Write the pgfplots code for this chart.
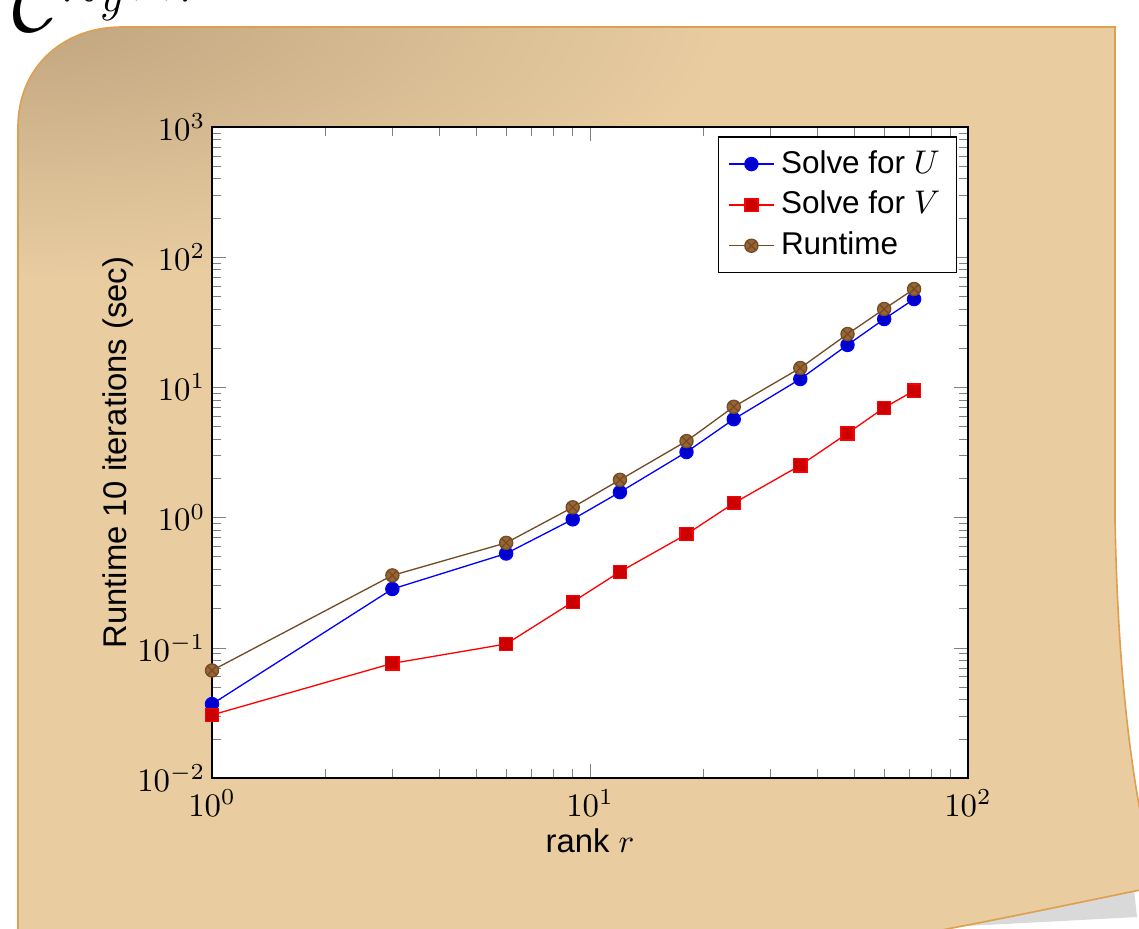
\documentclass[border=0pt]{standalone}
\usepackage{fontspec}
\setmainfont{Liberation Sans}
\usepackage{pgfplots}
\pgfplotsset{compat=1.18}

\definecolor{paper}{RGB}{233,205,161}
\definecolor{paperdark}{RGB}{192,164,126}
\definecolor{paperedge}{RGB}{222,160,80}
\definecolor{shadowgray}{RGB}{217,217,217}

\begin{document}
\begin{tikzpicture}
% note paper behind the plot, in pixel units of the reference
\begin{scope}[x=0.305pt,y=-0.305pt]
  \useasboundingbox (0,0) rectangle (1139,928);
  \clip (0,0) rectangle (1139,928);
  \node[anchor=base west, inner sep=0pt] at (12,31) {\fontsize{29}{30}\selectfont $\mathcal{C}^{n_y\times r}$};
  \fill[shadowgray] (1133,880) -- (1137,917) -- (700,940) -- cycle;
  \def\paperpath{(18,940) -- (18,127) .. controls (18,68) and (62,27) .. (122,27)
    -- (1115,27) -- (1115,520) .. controls (1118,680) and (1132,780) .. (1150,860)
    -- (1150,888) .. controls (1080,902) and (990,922) .. (860,945) -- cycle}
  \fill[paper] \paperpath;
  \begin{scope}
    \clip \paperpath;
    \shade[inner color=paperdark, outer color=paper] (30,10) ellipse (700 and 270);
  \end{scope}
  \draw[paperedge, line width=0.5pt] \paperpath;
\end{scope}

\begin{axis}[
  at={(64.66pt,-237.29pt)}, anchor=south west,
  width=230.58pt, height=198.56pt, scale only axis,
  xmode=log, ymode=log,
  xmin=1, xmax=100, ymin=0.01, ymax=1000,
  xlabel={rank $r$},
  ylabel={Runtime 10 iterations (sec)},
  xlabel shift=-3pt,
  ylabel shift=-5.5pt,
  yticklabel style={xshift=1.5pt},
  axis background/.style={fill=white},
  legend style={at={(0.986,0.9855)}, anchor=north east, font=\fontsize{9.6}{11}\selectfont},
  legend cell align=left,
  legend image code/.code={
    \draw[mark repeat=2,mark phase=2,#1] plot coordinates {(0cm,0cm) (0.24cm,0cm) (0.48cm,0cm)};
  },
]
\addplot coordinates {
  (1,0.037) (3,0.283) (6,0.53) (9,0.97) (12,1.57) (18,3.19)
  (24,5.7) (36,11.6) (48,21.2) (60,33.5) (72,47.7)
};
\addlegendentry{Solve for $U$}
\addplot coordinates {
  (1,0.0305) (3,0.076) (6,0.107) (9,0.225) (12,0.384) (18,0.745)
  (24,1.29) (36,2.52) (48,4.44) (60,6.98) (72,9.44)
};
\addlegendentry{Solve for $V$}
\addplot coordinates {
  (1,0.067) (3,0.36) (6,0.64) (9,1.2) (12,1.95) (18,3.87)
  (24,7.1) (36,14.1) (48,25.7) (60,40) (72,57)
};
\addlegendentry{Runtime}
\end{axis}
\end{tikzpicture}
\end{document}
